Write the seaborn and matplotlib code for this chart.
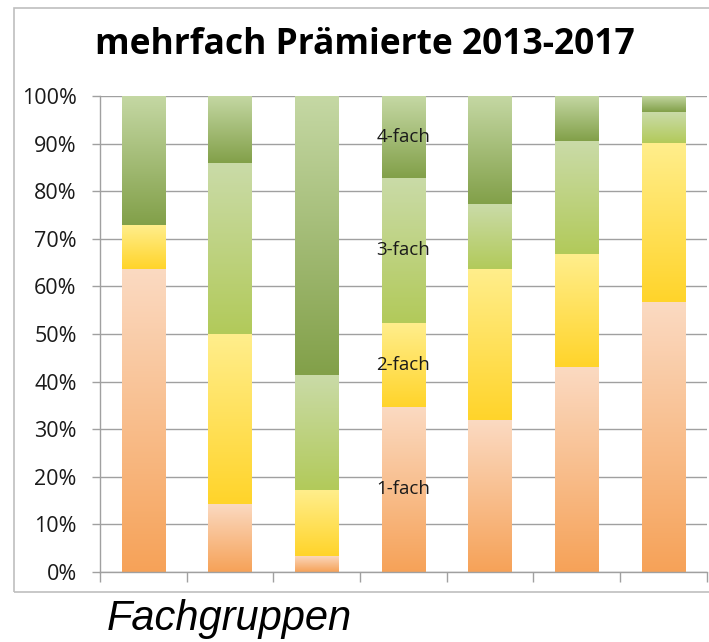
import numpy as np
import pandas as pd
import matplotlib
matplotlib.use('Agg')
import matplotlib.pyplot as plt
import seaborn as sns
from matplotlib.colors import LinearSegmentedColormap
from matplotlib.patches import Rectangle
from matplotlib.ticker import PercentFormatter

# ============================================================
# DATA (shares in % per Fachgruppe)
# ============================================================
groups = ['G1', 'G2', 'G3', 'G4', 'G5', 'G6', 'G7']
fach_1 = [63.7, 14.3, 3.4, 34.7, 31.9, 43.1, 56.7]
fach_2 = [9.2, 35.7, 13.8, 17.6, 31.8, 23.7, 33.4]
fach_3 = [0.0, 35.9, 24.2, 30.5, 13.6, 23.7, 6.5]
fach_4 = [27.1, 14.1, 58.6, 17.2, 22.7, 9.5, 3.4]
layer_names = ['1-fach', '2-fach', '3-fach', '4-fach']
label_group = 3  # bar that carries the segment labels

# gradient colours (top, bottom) per layer
grad_colors = {
    '1-fach': ('#fbdac2', '#f6a258'),
    '2-fach': ('#ffee8c', '#ffd42a'),
    '3-fach': ('#cadba8', '#b2ca5a'),
    '4-fach': ('#c5d8a4', '#82a049'),
}

layers = [fach_1, fach_2, fach_3, fach_4]

sns.set_style('white')

fig = plt.figure(figsize=(7.09, 6.42), dpi=100)
ax = fig.add_axes([0.141, 0.109, 0.856, 0.7415])

# outer chart border (right side is cut off in the original)
fig.add_artist(Rectangle((0.02, 0.078), 1.2, 0.9095, transform=fig.transFigure,
                         fill=False, edgecolor='#bfbfbf', linewidth=1.2))

# stacked bars via seaborn, then replaced by vertical gradients
bottom = np.zeros(len(groups))
for name, vals in zip(layer_names, layers):
    n_before = len(ax.patches)
    sns.barplot(x=groups, y=vals, bottom=bottom, order=groups, width=0.5,
                color='white', ax=ax, zorder=2)
    cmap = LinearSegmentedColormap.from_list(name, list(grad_colors[name]))
    for p in ax.patches[n_before:]:
        x0, w = p.get_x(), p.get_width()
        y0, h = p.get_y(), p.get_height()
        p.set_visible(False)
        if h <= 0:
            continue
        ax.imshow(np.linspace(0, 1, 256).reshape(-1, 1), cmap=cmap,
                  extent=(x0, x0 + w, y0, y0 + h), aspect='auto',
                  origin='upper', zorder=2, interpolation='bilinear')
    bottom = bottom + np.array(vals)

# segment labels in one bar
cum = 0.0
for name, vals in zip(layer_names, layers):
    v = vals[label_group]
    ax.text(label_group, cum + v / 2, name, ha='center', va='center',
            fontsize=13.5, family='Open Sans', color='#1a1a1a', zorder=3)
    cum += v

ax.set_xlim(-0.5, len(groups) - 0.5)
ax.set_ylim(0, 100)
ax.set_yticks(np.arange(0, 101, 10))
ax.yaxis.set_major_formatter(PercentFormatter(decimals=0))
ax.set_xticks(np.arange(-0.5, len(groups), 1.0))
ax.set_xticklabels([])
ax.set_xlabel('')
ax.set_ylabel('')

ax.grid(axis='y', color='#a0a0a0', linewidth=1.0)
ax.grid(axis='x', visible=False)
ax.set_axisbelow(True)

for s in ['top', 'right']:
    ax.spines[s].set_visible(False)
for s in ['left', 'bottom']:
    ax.spines[s].set_color('#a0a0a0')
    ax.spines[s].set_linewidth(1.0)

ax.tick_params(axis='y', direction='out', length=5.8, width=1.0, color='#a0a0a0',
               pad=11, labelsize=15.5, labelcolor='#1a1a1a', left=True)
ax.tick_params(axis='x', direction='out', length=7, width=1.0, color='#a0a0a0',
               bottom=True)
for lbl in ax.get_yticklabels():
    lbl.set_family('Open Sans')

fig.text(0.514, 0.93, 'mehrfach Prämierte 2013-2017', ha='center', va='center',
         fontsize=25.5, fontweight='bold', family='Open Sans', color='black')
fig.text(0.151, 0.019, 'Fachgruppen', ha='left', va='baseline', fontsize=30,
         style='italic', family='Liberation Sans', color='black')

fig.savefig('out.png', dpi=100)
plt.close()
